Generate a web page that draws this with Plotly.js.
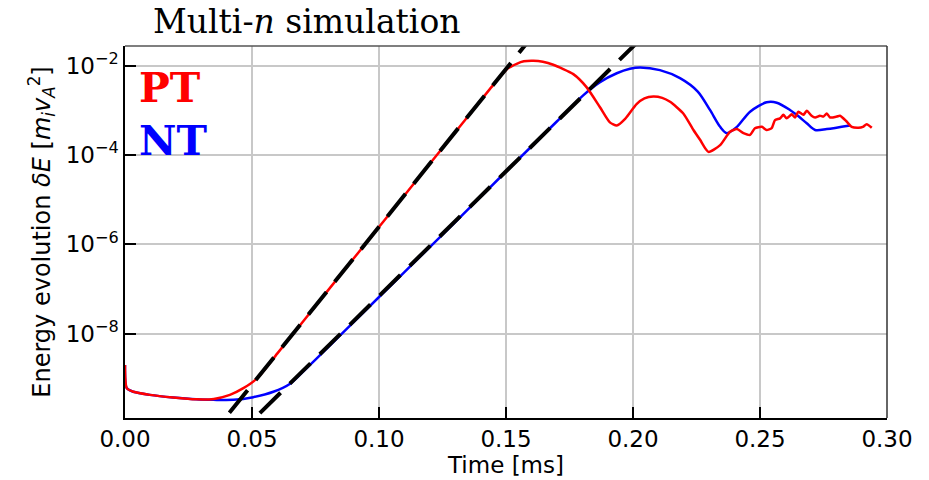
<!DOCTYPE html>
<html>
<head>
<meta charset="utf-8">
<script src="https://cdn.plot.ly/plotly-3.0.1.min.js"></script>
<style>html,body{margin:0;padding:0;background:#fff;}#chart{width:929px;height:480px;}</style>
</head>
<body>
<div id="chart"></div>
<script>
// PT run (red): time [ms] and energy
var tPT = [0.0000, 0.0007, 0.0033, 0.0098, 0.019, 0.028, 0.035, 0.0413, 0.0466, 0.052, 0.060, 0.080, 0.100, 0.120, 0.135, 0.145, 0.1503, 0.1542, 0.1570, 0.1608, 0.1645, 0.1686, 0.1765, 0.1817, 0.187, 0.1909, 0.1936, 0.1969, 0.2014, 0.2045, 0.208, 0.2115, 0.2146, 0.2198, 0.2238, 0.2264, 0.2297, 0.2343, 0.2382, 0.2409, 0.2435, 0.2461, 0.248, 0.2507, 0.2526, 0.2546, 0.2559, 0.2579, 0.2592, 0.2605, 0.2625, 0.2638, 0.2651, 0.2671, 0.2684, 0.2703, 0.2717, 0.2736, 0.2750, 0.2763, 0.2776, 0.2802, 0.2815, 0.2841, 0.2861, 0.2888, 0.2905, 0.292, 0.294];
var ePT = [2.0e-9, 6.03e-10, 5.01e-10, 4.27e-10, 3.72e-10, 3.39e-10, 3.47e-10, 4.27e-10, 6.03e-10, 1.0e-9, 3.63e-9, 9.46e-8, 2.45e-6, 6.37e-5, 7.31e-4, 3.72e-3, 8.31e-3, 1.10e-2, 1.25e-2, 1.288e-2, 1.22e-2, 1.047e-2, 6.46e-3, 3.31e-3, 1.175e-3, 5.37e-4, 4.57e-4, 6.46e-4, 1.38e-3, 1.85e-3, 2.04e-3, 1.90e-3, 1.55e-3, 8.51e-4, 3.63e-4, 2.19e-4, 1.175e-4, 1.66e-4, 3.31e-4, 3.80e-4, 3.09e-4, 2.82e-4, 3.98e-4, 4.27e-4, 3.63e-4, 3.98e-4, 6.03e-4, 6.61e-4, 7.94e-4, 6.61e-4, 8.13e-4, 6.92e-4, 9.33e-4, 7.94e-4, 9.77e-4, 7.59e-4, 6.92e-4, 7.59e-4, 7.24e-4, 8.51e-4, 6.92e-4, 7.24e-4, 7.59e-4, 5.62e-4, 4.27e-4, 4.07e-4, 4.27e-4, 4.90e-4, 4.07e-4];

// NT run (blue)
var tNT = [0.0000, 0.0007, 0.0033, 0.0098, 0.019, 0.028, 0.0348, 0.0427, 0.0505, 0.0584, 0.065, 0.070, 0.075, 0.090, 0.110, 0.130, 0.150, 0.170, 0.1805, 0.187, 0.1936, 0.1988, 0.2028, 0.2106, 0.2185, 0.2255, 0.2303, 0.2343, 0.2369, 0.2409, 0.2461, 0.2526, 0.2566, 0.2618, 0.2644, 0.2684, 0.2717, 0.2763, 0.2854];
var eNT = [2.0e-9, 6.03e-10, 5.01e-10, 4.27e-10, 3.72e-10, 3.39e-10, 3.31e-10, 3.31e-10, 3.80e-10, 5.01e-10, 7.60e-10, 1.40e-9, 2.63e-9, 1.82e-8, 2.40e-7, 3.16e-6, 4.27e-5, 5.62e-4, 2.19e-3, 4.27e-3, 6.76e-3, 8.51e-3, 9.12e-3, 7.94e-3, 5.25e-3, 2.63e-3, 1.02e-3, 4.27e-4, 3.09e-4, 4.27e-4, 9.33e-4, 1.51e-3, 1.48e-3, 1.02e-3, 7.94e-4, 5.13e-4, 3.63e-4, 3.80e-4, 4.57e-4];

// exponential-growth fits (black dashed)
var tFitPT = [0.0411, 0.160];
var eFitPT = [1.70e-10, 4.29e-2];
var tFitNT = [0.0531, 0.203];
var eFitNT = [1.67e-10, 3.93e-2];

// axis ticks
var xTickVals = [0.00, 0.05, 0.10, 0.15, 0.20, 0.25, 0.30];
var xTickText = ['0.00', '0.05', '0.10', '0.15', '0.20', '0.25', '0.30'];
var yTickVals = [1e-8, 1e-6, 1e-4, 1e-2];
var yTickText = ['10<sup>\u22128</sup>', '10<sup>\u22126</sup>', '10<sup>\u22124</sup>', '10<sup>\u22122</sup>'];

var traces = [
  {x: tNT, y: eNT, type: 'scatter', mode: 'lines', name: 'NT', line: {color: '#0000ff', width: 2.5, shape: 'spline', smoothing: 0.8}},
  {x: tPT, y: ePT, type: 'scatter', mode: 'lines', name: 'PT', line: {color: '#ff0000', width: 2.5, shape: 'spline', smoothing: 0.6}},
  {x: tFitPT, y: eFitPT, type: 'scatter', mode: 'lines', name: 'fit PT', line: {color: '#000000', width: 4, dash: '29px,13px'}},
  {x: tFitNT, y: eFitNT, type: 'scatter', mode: 'lines', name: 'fit NT', line: {color: '#000000', width: 4, dash: '29px,13px'}}
];

var axisFont = {family: 'DejaVu Sans', size: 23, color: '#000'};
var layout = {
  width: 929, height: 480,
  margin: {l: 125, r: 42, t: 46, b: 62},
  paper_bgcolor: '#fff', plot_bgcolor: '#fff',
  showlegend: false,
  title: {text: 'Multi-<i>n</i> simulation', font: {family: 'DejaVu Serif', size: 33, color: '#000'},
          xref: 'container', x: 153/929, xanchor: 'left', yref: 'container', y: 1 - 21/480, yanchor: 'middle'},
  xaxis: {
    range: [0, 0.30], tickmode: 'array', tickvals: xTickVals, ticktext: xTickText,
    ticks: 'inside', ticklen: 11, tickwidth: 2, tickcolor: '#000',
    showgrid: true, gridcolor: '#c8c8c8', gridwidth: 1.5,
    showline: true, linecolor: '#000', linewidth: 1.5, zeroline: false,
    tickfont: axisFont,
    title: {text: 'Time [ms]', font: axisFont, standoff: 4}
  },
  yaxis: {
    type: 'log', range: [-9.887, -1.56], tickmode: 'array', tickvals: yTickVals, ticktext: yTickText,
    ticks: 'inside', ticklen: 11, tickwidth: 2, tickcolor: '#000',
    showgrid: true, gridcolor: '#c8c8c8', gridwidth: 1.5,
    showline: true, linecolor: '#000', linewidth: 1.5, zeroline: false,
    tickfont: axisFont,
    title: {text: 'Energy evolution <i>\u03b4E</i> [<i>m<sub>i</sub>v<sub>A</sub></i><sup>2</sup>]', font: {family: 'DejaVu Sans', size: 24, color: '#000'}, standoff: 8}
  },
  shapes: [
    {type: 'line', xref: 'paper', yref: 'paper', x0: 0, x1: 1, y0: 1, y1: 1, line: {color: '#555', width: 1.5}},
    {type: 'line', xref: 'paper', yref: 'paper', x0: 1, x1: 1, y0: 0, y1: 1, line: {color: '#333', width: 1.5}}
  ],
  annotations: [
    {text: '<b>PT</b>', xref: 'paper', yref: 'paper', x: 12/762, y: 0.887, xanchor: 'left', yanchor: 'middle', showarrow: false,
     font: {family: 'DejaVu Serif', size: 41, color: '#ff0000'}},
    {text: '<b>NT</b>', xref: 'paper', yref: 'paper', x: 12/762, y: 0.745, xanchor: 'left', yanchor: 'middle', showarrow: false,
     font: {family: 'DejaVu Serif', size: 41, color: '#0000ff'}}
  ]
};

Plotly.newPlot('chart', traces, layout, {displayModeBar: false});
</script>
</body>
</html>
